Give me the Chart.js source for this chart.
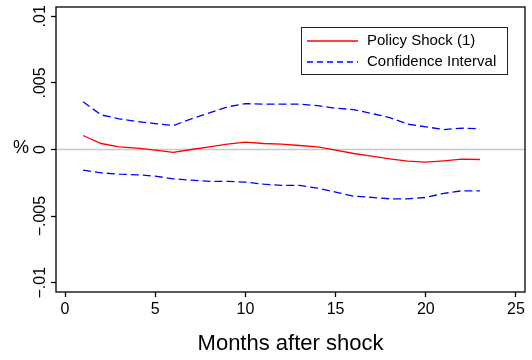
<!DOCTYPE html>
<html>
<head>
<meta charset="utf-8">
<script src="https://cdn.jsdelivr.net/npm/chart.js@4"></script>
<style>
  html, body { margin: 0; padding: 0; background: #fff; }
  #wrap { width: 532px; height: 360px; }
</style>
</head>
<body>
<div id="wrap"><canvas id="irf-chart"></canvas></div>
<script>
// months after the shock
const months = [1, 2, 3, 4, 5, 6, 7, 8, 9, 10, 11, 12, 13, 14, 15, 16, 17, 18, 19, 20, 21, 22, 23];

// impulse response and its confidence band
const response = [0.00105, 0.00045, 0.0002, 0.0001, -0.00005, -0.00022, 0.0, 0.0002, 0.0004, 0.00055, 0.00045, 0.0004,
                  0.0003, 0.0002, -0.00005, -0.0003, -0.0005, -0.0007, -0.00088, -0.00095, -0.00085, -0.00073, -0.00075];
const upperBand = [0.00358, 0.0026, 0.0023, 0.0021, 0.00195, 0.0018, 0.0023, 0.00275, 0.0032, 0.00345, 0.0034, 0.0034,
                   0.0034, 0.0033, 0.0031, 0.003, 0.0027, 0.0024, 0.0019, 0.0017, 0.0015, 0.0016, 0.00155];
const lowerBand = [-0.00155, -0.00175, -0.00185, -0.0019, -0.002, -0.0022, -0.0023, -0.0024, -0.0024, -0.00245, -0.0026, -0.0027,
                   -0.0027, -0.0029, -0.0032, -0.0035, -0.0036, -0.0037, -0.0037, -0.0036, -0.0033, -0.0031, -0.0031];

const xTicks = [0, 5, 10, 15, 20, 25];
const yTicks = [-0.01, -0.005, 0, 0.005, 0.01];
const yTickLabels = ['\u2212.01', '\u2212.005', '0', '.005', '.01'];

const FONT = '"Liberation Sans", Arial, Helvetica, sans-serif';

const toPoints = (ys) => months.map((m, i) => ({ x: m, y: ys[i] }));

// frame, zero line, rotated y labels, "%" and the legend box
const stataDecor = {
    id: 'stataDecor',
    beforeDatasetsDraw(chart) {
        const { ctx, chartArea, scales } = chart;
        const y0 = scales.y.getPixelForValue(0);
        ctx.save();
        ctx.strokeStyle = '#c8c8c8';
        ctx.lineWidth = 1.5;
        ctx.beginPath();
        ctx.moveTo(chartArea.left, y0);
        ctx.lineTo(chartArea.right, y0);
        ctx.stroke();
        ctx.restore();
    },
    afterDraw(chart) {
        const { ctx, chartArea, scales } = chart;
        ctx.save();
        ctx.strokeStyle = '#000';
        ctx.lineWidth = 1.3;
        ctx.strokeRect(chartArea.left, chartArea.top, chartArea.right - chartArea.left, chartArea.bottom - chartArea.top);

        // y tick labels, turned to read upwards
        ctx.fillStyle = '#000';
        ctx.font = '16px ' + FONT;
        ctx.textAlign = 'center';
        ctx.textBaseline = 'alphabetic';
        yTicks.forEach((v, i) => {
            const py = scales.y.getPixelForValue(v);
            ctx.save();
            ctx.translate(45, py);
            ctx.rotate(-Math.PI / 2);
            ctx.fillText(yTickLabels[i], 0, 0);
            ctx.restore();
        });

        ctx.font = '18px ' + FONT;
        ctx.textBaseline = 'middle';
        ctx.fillText('%', 21, scales.y.getPixelForValue(0) - 1);

        // legend
        const lx = 301, ly = 27, lw = 206, lh = 47;
        ctx.fillStyle = '#fff';
        ctx.fillRect(lx, ly, lw, lh);
        ctx.strokeStyle = '#222';
        ctx.lineWidth = 1;
        ctx.strokeRect(lx + 0.5, ly + 0.5, lw, lh);
        const rows = [chart.data.datasets[0], chart.data.datasets[1]];
        rows.forEach((ds, i) => {
            const ry = 41 + i * 21;
            ctx.strokeStyle = ds.borderColor;
            ctx.lineWidth = 1.3;
            ctx.setLineDash(i ? [6, 4] : []);
            ctx.beginPath();
            ctx.moveTo(307, ry);
            ctx.lineTo(358, ry);
            ctx.stroke();
            ctx.setLineDash([]);
            ctx.fillStyle = '#000';
            ctx.font = '15px ' + FONT;
            ctx.textAlign = 'left';
            ctx.textBaseline = 'middle';
            ctx.fillText(ds.label, 367, ry);
        });
        ctx.restore();
    }
};

new Chart(
    document.getElementById('irf-chart'),
    {
        type: 'line',
        data: {
            datasets: [{
                label: 'Policy Shock (1)',
                data: toPoints(response),
                borderColor: '#ff0000',
                borderWidth: 1.3,
                pointRadius: 0,
                fill: false,
                tension: 0
            }, {
                label: 'Confidence Interval',
                data: toPoints(upperBand),
                borderColor: '#0000ff',
                borderWidth: 1.3,
                borderDash: [8, 4],
                pointRadius: 0,
                fill: false,
                tension: 0
            }, {
                label: 'Confidence Interval (lower)',
                data: toPoints(lowerBand),
                borderColor: '#0000ff',
                borderWidth: 1.3,
                borderDash: [8, 4],
                pointRadius: 0,
                fill: false,
                tension: 0
            }]
        },
        options: {
            responsive: true,
            maintainAspectRatio: false,
            animation: false,
            layout: { padding: { left: 0, right: 7, top: 7, bottom: 0 } },
            plugins: {
                legend: { display: false },
                tooltip: { enabled: false }
            },
            scales: {
                x: {
                    type: 'linear',
                    min: -0.5,
                    max: 25.5,
                    afterBuildTicks: (scale) => { scale.ticks = xTicks.map(v => ({ value: v })); },
                    afterFit: (scale) => { scale.height = 68; },
                    grid: {
                        drawOnChartArea: false,
                        drawTicks: true,
                        tickLength: 5,
                        tickWidth: 1.3,
                        color: '#000'
                    },
                    border: { display: false },
                    ticks: {
                        color: '#000',
                        padding: 3,
                        maxRotation: 0,
                        font: { size: 16, family: FONT }
                    },
                    title: {
                        display: true,
                        text: 'Months after shock',
                        color: '#000',
                        font: { size: 22, family: FONT },
                        padding: { top: 0, bottom: 3 }
                    }
                },
                y: {
                    min: -0.0107,
                    max: 0.0107,
                    afterBuildTicks: (scale) => { scale.ticks = yTicks.map(v => ({ value: v })); },
                    afterFit: (scale) => { scale.width = 56; },
                    grid: {
                        drawOnChartArea: false,
                        drawTicks: true,
                        tickLength: 5,
                        tickWidth: 1.3,
                        color: '#000'
                    },
                    border: { display: false },
                    ticks: { display: false }
                }
            }
        },
        plugins: [stataDecor]
    }
);
</script>
</body>
</html>
